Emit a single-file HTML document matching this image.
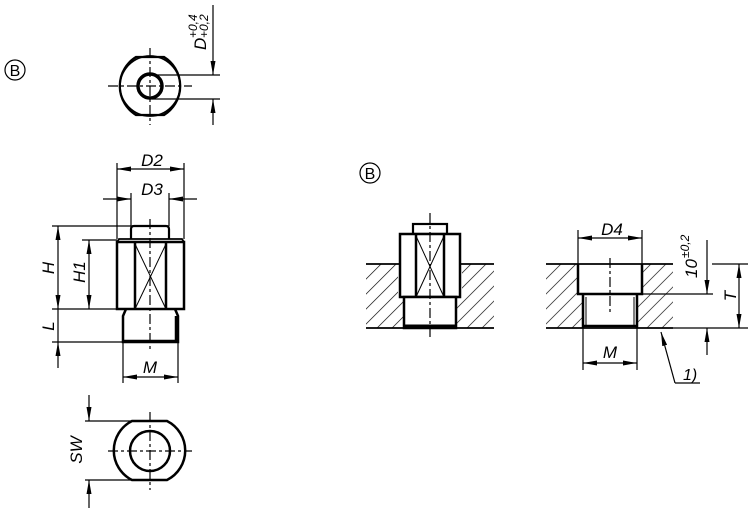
<!DOCTYPE html>
<html><head><meta charset="utf-8"><style>
html,body{margin:0;padding:0;background:#fff;}
svg{display:block;}
text{font-family:"Liberation Sans",sans-serif;fill:#000;}
.i{font-style:italic;}
</style></head><body>
<svg width="750" height="511" viewBox="0 0 750 511" xmlns="http://www.w3.org/2000/svg">
<defs>
<marker id="a" viewBox="0 0 14 5" refX="14" refY="2.5" markerWidth="14" markerHeight="5" markerUnits="userSpaceOnUse" orient="auto"><path d="M0,0 L14,2.5 L0,5z" fill="#000"/></marker>
<pattern id="h" patternUnits="userSpaceOnUse" width="10.6" height="10.6" patternTransform="rotate(45)"><line x1="0" y1="0" x2="0" y2="10.6" stroke="#000" stroke-width="1.3"/></pattern>
</defs>
<g fill="none" stroke="#000">
<circle cx="15" cy="70" r="10" stroke-width="1.2"/>
<circle cx="370" cy="173" r="10" stroke-width="1.2"/>

<!-- Top view -->
<path d="M136,57 L164,57 A34,34 0 0 1 164,115 L136,115 A34,34 0 0 1 136,57Z" stroke-width="2.2"/>
<circle cx="150" cy="86" r="30" stroke-width="1.8"/>
<circle cx="150" cy="86" r="12" stroke-width="3.5"/>
<g stroke-width="1.2" stroke-dasharray="10,3,3,3">
<line x1="108" y1="86" x2="192" y2="86"/><line x1="150" y1="48" x2="150" y2="125"/>
</g>
<g stroke-width="1.2">
<line x1="152" y1="75" x2="220" y2="75"/><line x1="152" y1="99" x2="220" y2="99"/>
<line x1="213" y1="5" x2="213" y2="75" marker-end="url(#a)"/>
<line x1="213" y1="125" x2="213" y2="99" marker-end="url(#a)"/>
</g>

<!-- Side view -->
<path d="M131,239 L131,229 Q131,226 134,226 L166,226 Q169,226 169,229 L169,239" stroke-width="2.2"/>
<path d="M117,242 L119,239 L182,239 L184,242" stroke-width="1.8"/>
<rect x="117" y="242" width="67" height="67" stroke-width="2.5"/>
<line x1="135" y1="242" x2="135" y2="309" stroke-width="2.5"/>
<line x1="166" y1="242" x2="166" y2="309" stroke-width="2.5"/>
<path d="M135,244 L166,309 M166,244 L135,309" stroke-width="1"/>
<path d="M126,309 L123,316 L123,342 L178,342 L178,316 L175,309" stroke-width="2.5"/>
<line x1="123" y1="341" x2="178" y2="341" stroke-width="2.5"/>
<line x1="176" y1="316" x2="176" y2="342" stroke-width="2.5"/>
<line x1="150" y1="219" x2="150" y2="352" stroke-width="1.2" stroke-dasharray="10,3,3,3"/>
<g stroke-width="1.2">
<line x1="117" y1="163" x2="117" y2="239"/><line x1="184" y1="163" x2="184" y2="239"/>
<line x1="150" y1="169" x2="117" y2="169" marker-end="url(#a)"/><line x1="150" y1="169" x2="184" y2="169" marker-end="url(#a)"/>
<line x1="131" y1="193" x2="131" y2="226"/><line x1="169" y1="193" x2="169" y2="226"/>
<line x1="103" y1="199" x2="131" y2="199" marker-end="url(#a)"/><line x1="197" y1="199" x2="169" y2="199" marker-end="url(#a)"/>
<line x1="52" y1="226" x2="131" y2="226"/><line x1="52" y1="309" x2="117" y2="309"/>
<line x1="52" y1="342" x2="123" y2="342"/><line x1="82" y1="240" x2="117" y2="240"/>
<line x1="58" y1="268" x2="58" y2="226" marker-end="url(#a)"/><line x1="58" y1="268" x2="58" y2="309" marker-end="url(#a)"/>
<line x1="58" y1="309" x2="58" y2="342"/>
<line x1="58" y1="368" x2="58" y2="342" marker-end="url(#a)"/>
<line x1="89" y1="274" x2="89" y2="240" marker-end="url(#a)"/><line x1="89" y1="274" x2="89" y2="309" marker-end="url(#a)"/>
<line x1="123" y1="342" x2="123" y2="383"/><line x1="178" y1="342" x2="178" y2="383"/>
<line x1="150" y1="377" x2="123" y2="377" marker-end="url(#a)"/><line x1="150" y1="377" x2="178" y2="377" marker-end="url(#a)"/>
</g>

<!-- Bottom view -->
<path d="M132,421 L167,421 A33,33 0 0 1 167,480 L132,480 A33,33 0 0 1 132,421Z" stroke-width="2.5"/>
<circle cx="150" cy="451" r="20" stroke-width="2.5"/>
<g stroke-width="1.2" stroke-dasharray="10,3,3,3">
<line x1="108" y1="451" x2="192" y2="451"/><line x1="150" y1="412" x2="150" y2="490"/>
</g>
<g stroke-width="1.2">
<line x1="85" y1="421" x2="132" y2="421"/><line x1="85" y1="480" x2="132" y2="480"/>
<line x1="89" y1="395" x2="89" y2="421" marker-end="url(#a)"/>
<line x1="89" y1="508" x2="89" y2="480" marker-end="url(#a)"/>
</g>

<!-- Installed view -->
<path d="M366,264 L398,264 L398,297 L404,297 L404,328 L366,328Z" fill="url(#h)" stroke="none"/>
<path d="M462,264 L494,264 L494,328 L456,328 L456,297 L462,297Z" fill="url(#h)" stroke="none"/>
<line x1="366" y1="264" x2="494" y2="264" stroke-width="1.8"/>
<line x1="366" y1="328" x2="494" y2="328" stroke-width="1.8"/>
<rect x="413" y="224" width="34" height="10" stroke-width="2.2"/>
<rect x="400" y="234" width="60" height="63" fill="#fff" stroke-width="2.5"/>
<line x1="416" y1="234" x2="416" y2="297" stroke-width="2.5"/>
<line x1="444" y1="234" x2="444" y2="297" stroke-width="2.5"/>
<path d="M416,236 L444,297 M444,236 L416,297" stroke-width="1"/>
<rect x="404" y="297" width="52" height="31" fill="#fff" stroke-width="2.5"/>
<line x1="404" y1="326" x2="456" y2="326" stroke-width="3"/>
<line x1="430" y1="213" x2="430" y2="340" stroke-width="1.2" stroke-dasharray="10,3,3,3"/>

<!-- Hole view -->
<path d="M546,264 L578,264 L578,297 L583,297 L583,328 L546,328Z" fill="url(#h)" stroke="none"/>
<path d="M642,264 L673,264 L673,328 L637,328 L637,297 L642,297Z" fill="url(#h)" stroke="none"/>
<line x1="546" y1="264" x2="673" y2="264" stroke-width="1.8"/>
<line x1="546" y1="328" x2="673" y2="328" stroke-width="1.8"/>
<path d="M578,264 L578,294 L642,294 L642,264" stroke-width="2.5"/>
<path d="M583,294 L583,328 M637,294 L637,328 M583,326 L637,326" stroke-width="2.5"/>
<line x1="586" y1="297" x2="586" y2="326" stroke-width="1"/>
<line x1="634" y1="297" x2="634" y2="326" stroke-width="1"/>
<line x1="610" y1="258" x2="610" y2="312" stroke-width="1.2" stroke-dasharray="10,3,3,3"/>
<g stroke-width="1.2">
<line x1="578" y1="230" x2="578" y2="264"/><line x1="642" y1="230" x2="642" y2="264"/>
<line x1="610" y1="238" x2="578" y2="238" marker-end="url(#a)"/><line x1="610" y1="238" x2="642" y2="238" marker-end="url(#a)"/>
<line x1="583" y1="328" x2="583" y2="370"/><line x1="637" y1="328" x2="637" y2="370"/>
<line x1="610" y1="363" x2="583" y2="363" marker-end="url(#a)"/><line x1="610" y1="363" x2="637" y2="363" marker-end="url(#a)"/>
<line x1="712" y1="264" x2="748" y2="264"/><line x1="673" y1="328" x2="748" y2="328"/>
<line x1="642" y1="294" x2="713" y2="294"/>
<line x1="707" y1="240" x2="707" y2="294" marker-end="url(#a)"/>
<line x1="707" y1="355" x2="707" y2="328" marker-end="url(#a)"/>
<line x1="739" y1="296" x2="739" y2="264" marker-end="url(#a)"/><line x1="739" y1="296" x2="739" y2="328" marker-end="url(#a)"/>
<path d="M675,383 L661,332" marker-end="url(#a)"/>
<line x1="675" y1="383" x2="700" y2="383"/>
</g>
</g>

<!-- Text -->
<text x="15" y="76" font-size="16" text-anchor="middle">B</text>
<text x="370" y="179" font-size="16" text-anchor="middle">B</text>
<g class="i" transform="translate(206,50) rotate(-90)"><text x="0" y="0" font-size="17">D</text><text x="12" y="-9" font-size="12">+0,4</text><text x="12" y="2" font-size="12">+0,2</text></g>
<text class="i" x="152" y="166" font-size="17" text-anchor="middle">D2</text>
<text class="i" x="152" y="195" font-size="17" text-anchor="middle">D3</text>
<text class="i" transform="translate(54,268) rotate(-90)" font-size="17" text-anchor="middle">H</text>
<text class="i" transform="translate(85,272) rotate(-90)" font-size="17" text-anchor="middle">H1</text>
<text class="i" transform="translate(54,326) rotate(-90)" font-size="17" text-anchor="middle">L</text>
<text class="i" x="150" y="373" font-size="17" text-anchor="middle">M</text>
<text class="i" transform="translate(82,450) rotate(-90)" font-size="17" text-anchor="middle">SW</text>
<text class="i" x="612" y="235" font-size="17" text-anchor="middle">D4</text>
<text class="i" x="610" y="358" font-size="17" text-anchor="middle">M</text>
<g class="i" transform="translate(697,278) rotate(-90)"><text x="0" y="0" font-size="17">10</text><text x="20" y="-8" font-size="12">±0,2</text></g>
<text class="i" transform="translate(736,296) rotate(-90)" font-size="17" text-anchor="middle">T</text>
<text class="i" x="683" y="380" font-size="16">1)</text>
</svg>
</body></html>
